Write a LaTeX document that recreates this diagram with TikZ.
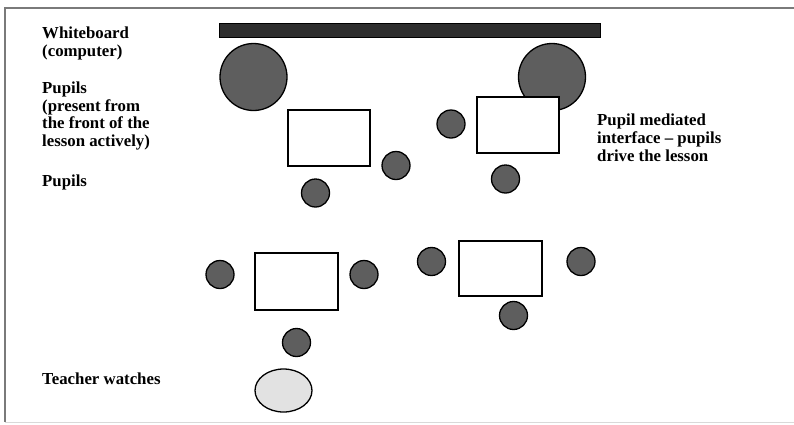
\documentclass[tikz,border=0pt]{standalone}
\usepackage{fontspec}
\setmainfont{Liberation Serif}
\usetikzlibrary{shapes.geometric}
\begin{document}
\begin{tikzpicture}[x=1pt,y=-1pt,
  % multi-line labels are placed by the baseline of their last line
  label text/.style={font=\bfseries\fontsize{16.8}{17.6}\selectfont, inner sep=0pt, align=left, anchor=base west},
  pupil/.style={circle, draw=black, line width=1.3pt, fill=pupilgray, minimum size=28pt, inner sep=0pt},
  big pupil/.style={circle, draw=black, line width=1.3pt, fill=pupilgray, minimum size=67pt, inner sep=0pt},
  desk/.style={draw=black, line width=1.1pt, fill=white, inner sep=0pt},
  teacher/.style={ellipse, draw=black, line width=1.3pt, fill=teachergray, minimum width=57pt, minimum height=43pt, inner sep=0pt},
  frame line/.style={draw=framegray, line width=2pt}]
\definecolor{pupilgray}{HTML}{5E5E5E}
\definecolor{teachergray}{HTML}{E2E2E2}
\definecolor{boardgray}{HTML}{2E2E2E}
\definecolor{framegray}{HTML}{7A7A7A}
\useasboundingbox (0,0) rectangle (794,424);

% outer frame (open on the right)
\draw[frame line] (794,8) -- (5,8) -- (5,422);
\draw[draw=black!15, line width=1pt] (5,422.5) -- (794,422.5);

% whiteboard
\node[draw=black, fill=boardgray, line width=0.8pt, inner sep=0pt,
      minimum width=381pt, minimum height=14pt] (board) at (410,30.5) {};

% labels
\node[label text] (lboard) at (42,56) {Whiteboard\\(computer)};
\node[label text] (lpupils) at (42,146.5) {Pupils\\(present from\\the front of the\\lesson actively)};
\node[label text] (lpupils2) at (42,186) {Pupils};
\node[label text] (lteacher) at (42,384) {Teacher watches};
\node[label text] (linterface) at (597,161) {Pupil mediated\\interface -- pupils\\drive the lesson};

% presenting pupils at the front
\node[big pupil] (p1) at (253.5,77) {};
\node[big pupil] (p2) at (552,77) {};

% front group
\node[desk, minimum width=82pt, minimum height=56pt] (d1) at (329,138) {};
\node[desk, minimum width=82pt, minimum height=56pt] (d2) at (518,125) {};
\node[pupil] (a1) at (451,124) {};
\node[pupil] (a2) at (396,165.5) {};
\node[pupil] (a3) at (315.5,193) {};
\node[pupil] (a4) at (505.5,179) {};

% back groups
\node[desk, minimum width=83pt, minimum height=57pt] (d3) at (296.5,281.5) {};
\node[pupil] (b1) at (220,274.5) {};
\node[pupil] (b2) at (364,274.5) {};
\node[pupil] (b3) at (296.5,342.5) {};

\node[desk, minimum width=83pt, minimum height=55pt] (d4) at (500.5,268.5) {};
\node[pupil] (c1) at (431.5,261.5) {};
\node[pupil] (c2) at (581,261.5) {};
\node[pupil] (c3) at (513.5,315.5) {};

% teacher
\node[teacher] (t) at (283.5,390.5) {};
\end{tikzpicture}
\end{document}
